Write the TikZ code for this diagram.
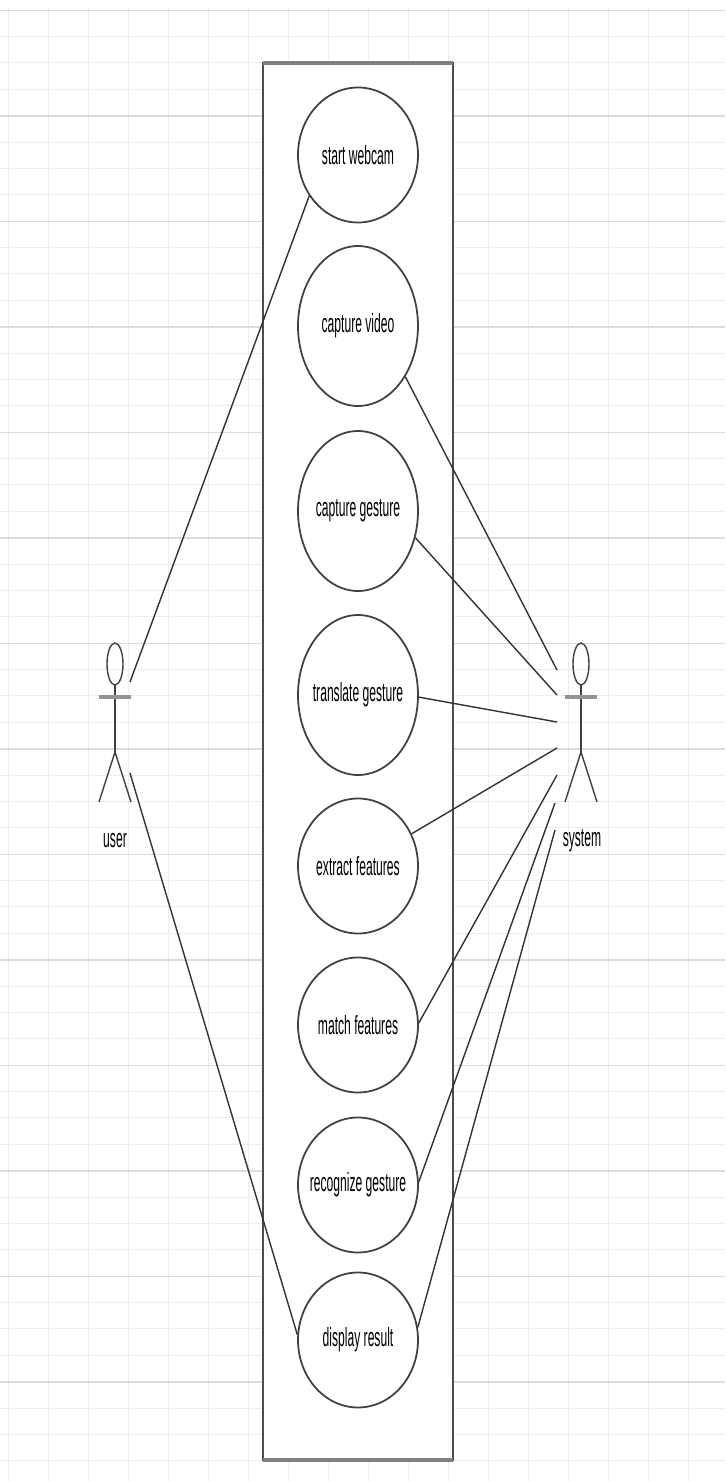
\documentclass[tikz,border=0pt]{standalone}
\usepackage{fontspec}
\setmainfont{Liberation Sans}
\usepackage{graphicx}
\usetikzlibrary{shapes.geometric}

\tikzset{
    usecase/.style={ellipse, draw=black!75, line width=1pt, fill=white,
        minimum width=2.4cm, minimum height=2.7cm, inner sep=0pt,
        font=\fontsize{15}{17}\selectfont},
    tall/.style={minimum height=3.2cm},
    link/.style={draw=black!80, line width=0.8pt},
    actor/.style={draw=black!75, line width=0.8pt},
    actorlabel/.style={inner sep=0pt, font=\fontsize{15}{17}\selectfont},
    gridminor/.style={gray!14, line width=0.4pt},
    gridmajor/.style={gray!28, line width=0.6pt},
}
\newcommand{\narrow}[1]{\makebox[0pt]{\scalebox{0.46}[1]{#1}}}

\begin{document}
\begin{tikzpicture}[x=0.02cm, y=-0.02cm]
    \useasboundingbox (0,0) rectangle (725,1481);

    % Background grid
    \foreach \x in {8,48,...,688} \draw[gridminor] (\x,8) -- (\x,1481);
    \foreach \i in {0,...,55} \draw[gridminor] (0,10+26.375*\i) -- (725,10+26.375*\i);
    \foreach \i in {0,...,13} \draw[gridmajor] (0,10.5+105.5*\i) -- (725,10.5+105.5*\i);

    % System boundary
    \draw[draw=black!70, line width=0.6pt, fill=white] (263,63) rectangle (453,1460);
    \draw[gray, line width=2pt] (263,63) -- (453,63);
    \draw[gray, line width=2pt] (263,1460) -- (453,1460);

    % Use cases
    \node[usecase] (webcam) at (358,155) {\narrow{start webcam}};
    \node[usecase, tall] (video) at (358,326) {\narrow{capture video}};
    \node[usecase, tall] (gesture) at (358,511) {\narrow{capture gesture}};
    \node[usecase, tall] (translate) at (358,695) {\narrow{translate gesture}};
    \node[usecase] (extract) at (358,866) {\narrow{extract features}};
    \node[usecase] (match) at (358,1025) {\narrow{match features}};
    \node[usecase] (recognize) at (358,1185) {\narrow{recognize gesture}};
    \node[usecase] (result) at (358,1340) {\narrow{display result}};

    % Actors
    \foreach \ax in {115,581} {
        \draw[actor] (\ax,664) ellipse (0.16cm and 0.42cm);
        \draw[actor] (\ax,685) -- (\ax,752);
        \draw[actor] (\ax-16,802) -- (\ax,752) -- (\ax+16,802);
        \draw[gray!85, line width=1.8pt] (\ax-16,697) -- (\ax+16,697);
    }
    \node[actorlabel] (user) at (115,841) {\narrow{user}};
    \node[actorlabel] (system) at (582,841) {\narrow{system}};

    % Connection points on the actors
    \coordinate (u1) at (130,682);
    \coordinate (u2) at (130,773);
    \coordinate (s1) at (557,670);
    \coordinate (s2) at (557,695);
    \coordinate (s3) at (557,722);
    \coordinate (s4) at (557,748);
    \coordinate (s5) at (557,775);
    \coordinate (s6) at (555,803);
    \coordinate (s7) at (555,830);

    % Associations
    \draw[link] (u1) -- (webcam.220);
    \draw[link] (u2) -- (result.175);
    \draw[link] (s1) -- (video.-47);
    \draw[link] (s2) -- (gesture.-25);
    \draw[link] (s3) -- (translate.-2);
    \draw[link] (s4) -- (extract.31);
    \draw[link] (s5) -- (match.2);
    \draw[link] (s6) -- (recognize.3);
    \draw[link] (s7) -- (result.12);
\end{tikzpicture}
\end{document}
